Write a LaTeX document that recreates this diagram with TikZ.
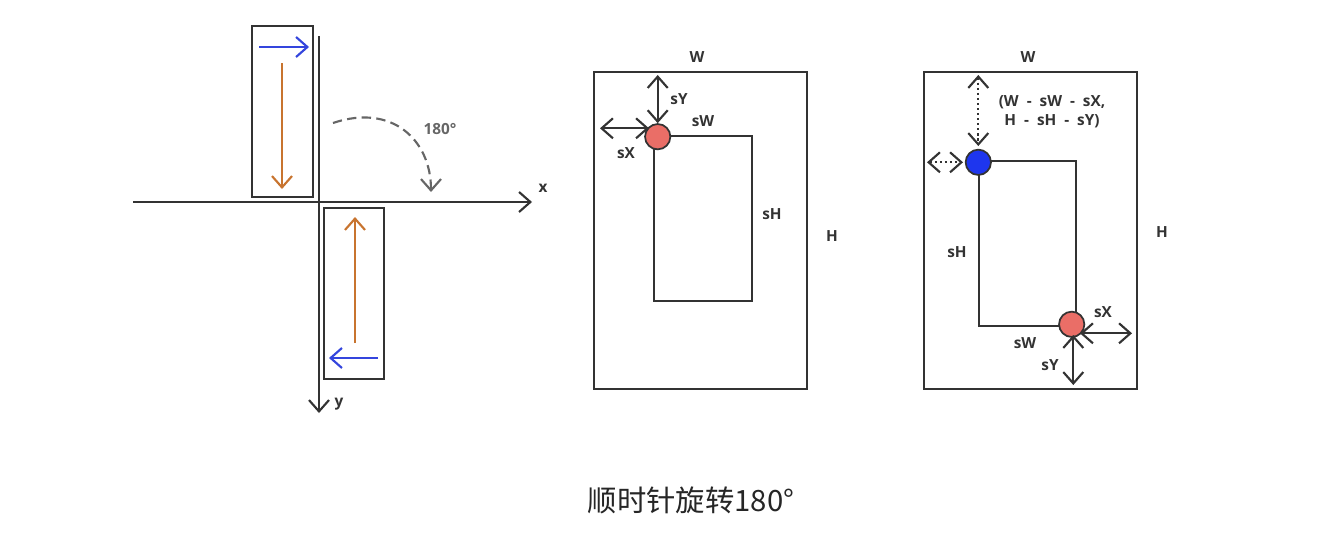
\documentclass[tikz,border=0pt]{standalone}
\usepackage{fontspec}
\setmainfont{Open Sans}
\newfontfamily\cjk{Noto Sans CJK SC}
\usetikzlibrary{arrows.meta}
\definecolor{lc}{HTML}{333333}
\definecolor{gc}{HTML}{666666}
\definecolor{bluearr}{HTML}{3445DD}
\definecolor{orangearr}{HTML}{C8742F}
\definecolor{redfill}{HTML}{EA6E67}
\definecolor{bluefill}{HTML}{1E36EE}
\begin{document}
\begin{tikzpicture}[x=0.75pt,y=-0.75pt,
  line/.style={draw=lc, line width=1.6pt},
  barb/.style={-{Straight Barb[length=8.5pt,width=15pt]}},
  dbarb/.style={{Straight Barb[length=8.5pt,width=15pt]}-{Straight Barb[length=8.5pt,width=15pt]}},
  lab/.style={font=\fontsize{11.5}{14}\selectfont\bfseries, text=lc, inner sep=0pt},
  dot/.style={circle, draw=lc, line width=1.3pt, minimum size=19pt, inner sep=0pt},
  dotline/.style={line, dash pattern=on 1.6pt off 2.2pt}
]
\useasboundingbox (0,0) rectangle (1338,536);

% ---------- left panel ----------
\draw[line] (252,26) rectangle (313,197);
\draw[line] (324,208) rectangle (384,379);
\coordinate (xs) at (133,202); \coordinate (xe) at (532,202);
\coordinate (ys) at (319,36);  \coordinate (ye) at (319,413);
\draw[line,barb] (xs) -- (xe);
\draw[line,barb] (ys) -- (ye);
\node[lab] (xl) at (543,188) {x};
\node[lab] (yl) at (339,404) {y};

\coordinate (b1s) at (259,47);  \coordinate (b1e) at (309,47);
\coordinate (o1s) at (282,63);  \coordinate (o1e) at (282,189);
\coordinate (o2s) at (355,343); \coordinate (o2e) at (355,217);
\coordinate (b2s) at (378,358); \coordinate (b2e) at (329,358);
\draw[line,draw=bluearr,barb] (b1s) -- (b1e);
\draw[line,draw=orangearr,barb] (o1s) -- (o1e);
\draw[line,draw=orangearr,barb] (o2s) -- (o2e);
\draw[line,draw=bluearr,barb] (b2s) -- (b2e);

\coordinate (arcs) at (333,123); \coordinate (arce) at (431,192);
\draw[line,draw=gc,barb,dash pattern=on 7pt off 4pt] (arcs) .. controls (392,103) and (431,140) .. (arce);
\node[lab,text=gc] (ang) at (440,129) {180°};

% ---------- middle panel ----------
\draw[line] (594,72) rectangle (807,389);
\draw[line] (654,136) rectangle (752,301);
\node[dot, fill=redfill] (c1) at (657.7,136.7) {};
\coordinate (m1) at (657.7,75);
\coordinate (m2) at (600,128.3); \coordinate (m3) at (649,128.3);
\draw[line,dbarb] (m1) -- (c1.north);
\draw[line,dbarb] (m2) -- (m3);
\node[lab] (mW) at (697,57) {W};
\node[lab] (mH) at (832,236) {H};
\node[lab] (msY) at (679,99) {sY};
\node[lab] (msW) at (703,121) {sW};
\node[lab] (msX) at (626,153) {sX};
\node[lab] (msH) at (772,214) {sH};

% ---------- right panel ----------
\draw[line] (924,72) rectangle (1137,389);
\draw[line] (979,161) rectangle (1076,326);
\node[dot, fill=bluefill] (c2) at (978.3,162.3) {};
\node[dot, fill=redfill] (c3) at (1071.7,324.3) {};
\coordinate (r1) at (978.3,75);  \coordinate (r2) at (978.3,146);
\coordinate (r3) at (927,162.3); \coordinate (r4) at (963,162.3);
\draw[dotline,dbarb] (r1) -- (r2);
\draw[dotline,dbarb] (r3) -- (r4);
\coordinate (r5) at (1080,333.3); \coordinate (r6) at (1132,333.3);
\coordinate (r7) at (1073.3,335); \coordinate (r8) at (1073.3,385);
\draw[line,dbarb] (r5) -- (r6);
\draw[line,dbarb] (r7) -- (r8);
\node[lab, align=center] (form) at (1052,112) {(W\ \ -\ \ sW\ \ -\ \ sX,\\H\ \ -\ \ sH\ \ -\ \ sY)};
\node[lab] (rW) at (1028,57) {W};
\node[lab] (rH) at (1162,232) {H};
\node[lab] (rsH) at (957,252) {sH};
\node[lab] (rsW) at (1025,343) {sW};
\node[lab] (rsX) at (1103,312) {sX};
\node[lab] (rsY) at (1050,365) {sY};

% ---------- caption ----------
\node[font=\cjk\fontsize{22}{26}\selectfont, text=black!85, inner sep=0pt] (cap) at (691,500) {顺时针旋转180°};
\end{tikzpicture}
\end{document}
